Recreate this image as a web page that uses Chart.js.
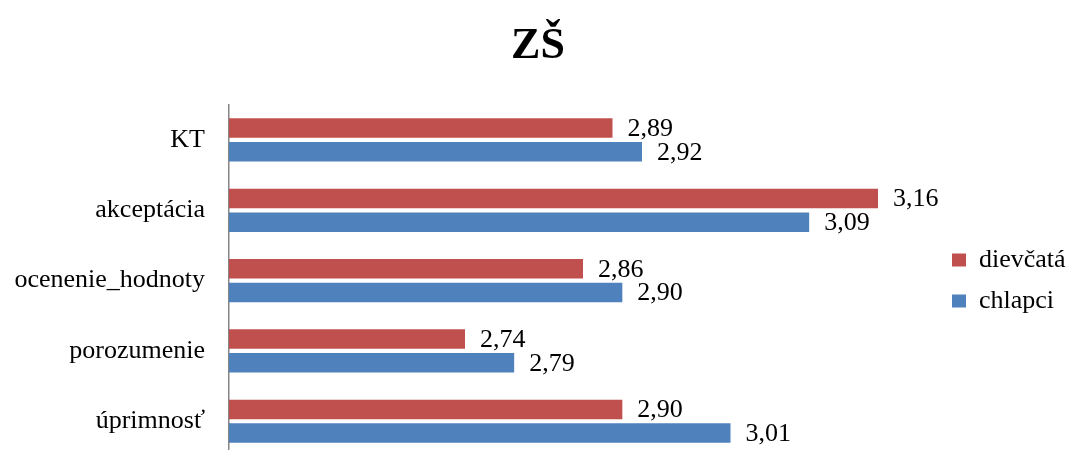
<!DOCTYPE html>
<html>
<head>
<meta charset="utf-8">
<script src="https://cdn.jsdelivr.net/npm/chart.js@4/dist/chart.umd.min.js"></script>
<style>
  html, body { margin: 0; padding: 0; background: #fff; overflow: hidden; }
  #wrap { width: 1066px; height: 496px; }
</style>
</head>
<body>
<div id="wrap"><canvas id="graf" width="1066" height="496"></canvas></div>
<script>
// kategorie a hodnoty
const kategorie = ["KT", "akceptácia", "ocenenie_hodnoty", "porozumenie", "úprimnosť"];
const dievcata = [2.89, 3.16, 2.86, 2.74, 2.90];
const chlapci = [2.92, 3.09, 2.90, 2.79, 3.01];

const PISMO = "'Liberation Serif', 'Times New Roman', serif";

// ---- popisky hodnot (ciarka ako desatinny oddelovac) ----
const popiskyHodnot = {
  id: "popiskyHodnot",
  afterDatasetsDraw(chart) {
    const ctx = chart.ctx;
    ctx.save();
    ctx.font = "26px " + PISMO;
    ctx.fillStyle = "#000";
    ctx.textAlign = "left";
    ctx.textBaseline = "middle";
    chart.data.datasets.forEach((ds, i) => {
      chart.getDatasetMeta(i).data.forEach((bar, j) => {
        ctx.fillText(ds.data[j].toFixed(2).replace(".", ","), bar.x + 15, bar.y + 1);
      });
    });
    ctx.restore();
  }
};

new Chart(document.getElementById("graf"), {
  type: "bar",
  data: {
    labels: kategorie,
    datasets: [
      {
        label: "dievčatá",
        data: dievcata,
        backgroundColor: "#C0504D",
        barPercentage: 0.823,
        categoryPercentage: 0.674
      },
      {
        label: "chlapci",
        data: chlapci,
        backgroundColor: "#4F81BD",
        barPercentage: 0.823,
        categoryPercentage: 0.674
      }
    ]
  },
  options: {
    indexAxis: "y",
    responsive: false,
    animation: false,
    layout: { padding: { left: 10, right: 0, top: 0, bottom: 0 } },
    scales: {
      x: {
        display: false,
        min: 2.5,
        max: 3.22
      },
      y: {
        afterFit: s => { s.width = 219; },
        grid: { display: false, drawTicks: false },
        border: { display: true, color: "#868686", width: 1.5 },
        ticks: {
          padding: 24,
          color: "#000",
          font: { family: PISMO, size: 26 }
        }
      }
    },
    plugins: {
      title: {
        display: true,
        text: "ZŠ",
        color: "#000",
        font: { family: PISMO, size: 44, weight: "bold" },
        padding: { top: 20, bottom: 32 }
      },
      legend: {
        position: "right",
        fullSize: false,
        maxWidth: 129,
        labels: {
          boxWidth: 14,
          boxHeight: 13,
          padding: 15,
          color: "#000",
          font: { family: PISMO, size: 26 }
        }
      },
      tooltip: { enabled: false }
    }
  },
  plugins: [popiskyHodnot]
});
</script>
</body>
</html>
